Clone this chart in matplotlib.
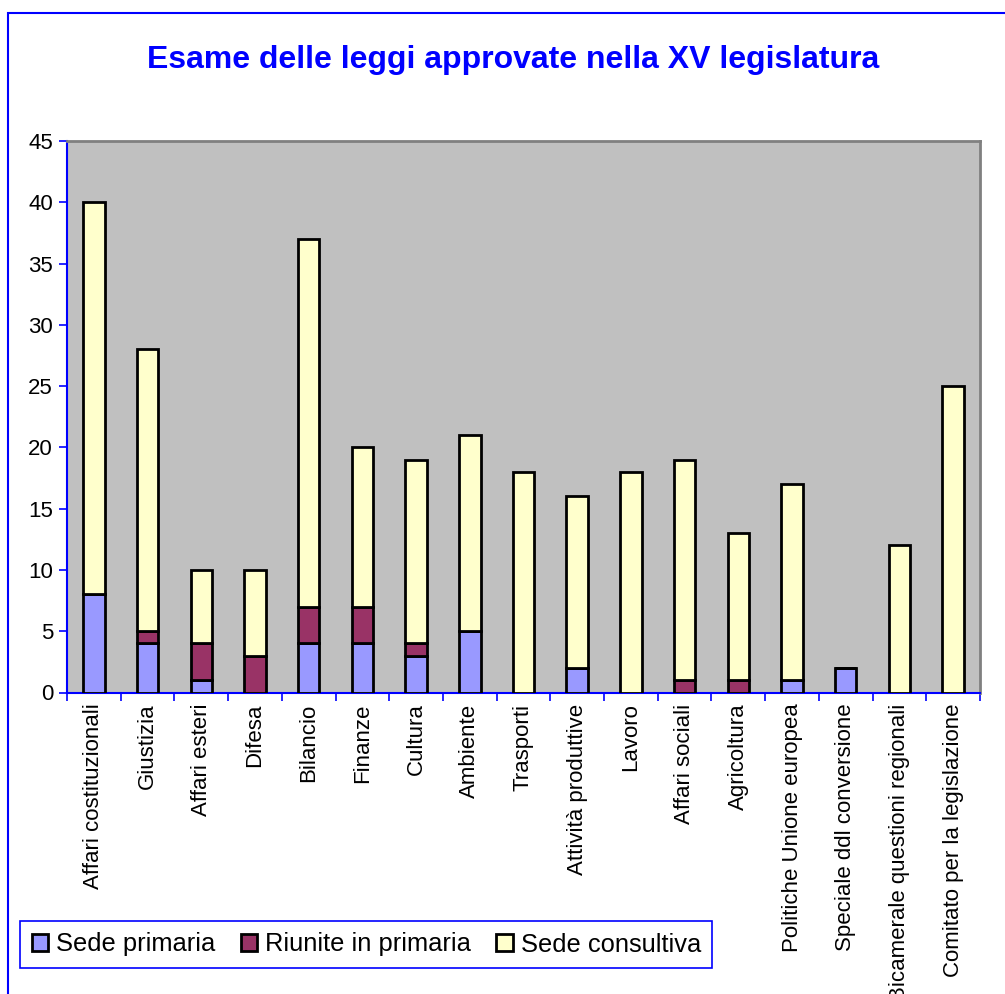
import matplotlib
matplotlib.use("Agg")
import matplotlib.pyplot as plt
from matplotlib.patches import Rectangle, Patch
import numpy as np

plt.rcParams["font.family"] = ["Liberation Sans", "DejaVu Sans"]

# data
categories = [
    "Affari costituzionali", "Giustizia", "Affari esteri", "Difesa", "Bilancio",
    "Finanze", "Cultura", "Ambiente", "Trasporti", "Attività produttive",
    "Lavoro", "Affari sociali", "Agricoltura", "Politiche Unione europea",
    "Speciale ddl conversione", "Bicamerale questioni regionali",
    "Comitato per la legislazione",
]
sede_primaria = [8, 4, 1, 0, 4, 4, 3, 5, 0, 2, 0, 0, 0, 1, 2, 0, 0]
riunite_primaria = [0, 1, 3, 3, 3, 3, 1, 0, 0, 0, 0, 1, 1, 0, 0, 0, 0]
sede_consultiva = [32, 23, 6, 7, 30, 13, 15, 16, 18, 14, 18, 18, 12, 16, 0, 12, 25]
series_names = ["Sede primaria", "Riunite in primaria", "Sede consultiva"]
colors = ["#9999FF", "#993366", "#FFFFCC"]

fig = plt.figure(figsize=(10.05, 9.94), dpi=100)
ax = fig.add_axes([67 / 1005, 1 - 692.5 / 994, (980 - 67) / 1005, (692.5 - 141) / 994])
ax.set_facecolor("#C0C0C0")

x = np.arange(len(categories))
bottom = np.zeros(len(categories))
for vals, c in zip([sede_primaria, riunite_primaria, sede_consultiva], colors):
    vals = np.array(vals)
    ax.bar(x, vals, 0.4, bottom=bottom, color=c, edgecolor="black", linewidth=2.0, zorder=3)
    bottom += vals

ax.set_xlim(-0.5, len(categories) - 0.5)
ax.set_ylim(0, 45)
ax.set_yticks(range(0, 46, 5))
ax.tick_params(axis="y", colors="#0000FF", labelcolor="black", labelsize=16,
               length=6, width=1.2, pad=4)

ax.set_xticks(x)
ax.set_xticklabels(categories, rotation=90, fontsize=16, va="top")
ax.tick_params(axis="x", length=0, pad=8)
ax.set_xticks(np.arange(-0.5, len(categories), 1), minor=True)
ax.tick_params(axis="x", which="minor", colors="#0000FF", length=6, width=1.2)

for s in ["left", "bottom"]:
    ax.spines[s].set_color("#0000FF")
    ax.spines[s].set_linewidth(1.5)
for s in ["top", "right"]:
    ax.spines[s].set_color("#808080")
    ax.spines[s].set_linewidth(2)

fig.text(513 / 1005, 1 - 60 / 994, "Esame delle leggi approvate nella XV legislatura",
         ha="center", va="center", fontsize=23, fontweight="bold", color="#0000FF")

handles = [Patch(facecolor=c, edgecolor="black", linewidth=2.0) for c in colors]
leg = fig.legend(handles, series_names, loc="upper left",
                 bbox_to_anchor=(20 / 1005, 1 - 921 / 994), ncol=3, fontsize=18.4,
                 frameon=True, fancybox=False, framealpha=1, handlelength=0.65,
                 handleheight=0.65, handletextpad=0.3, columnspacing=1.0,
                 borderpad=0.45, borderaxespad=0)
leg.get_frame().set_edgecolor("#0000FF")
leg.get_frame().set_linewidth(1.2)

# outer border
fig.patches.append(Rectangle((8 / 1005, -0.1), 1.2, 1.1 - 13 / 994, transform=fig.transFigure,
                             fill=False, edgecolor="#0000FF", linewidth=1.5))

fig.savefig("out.png", dpi=100)
